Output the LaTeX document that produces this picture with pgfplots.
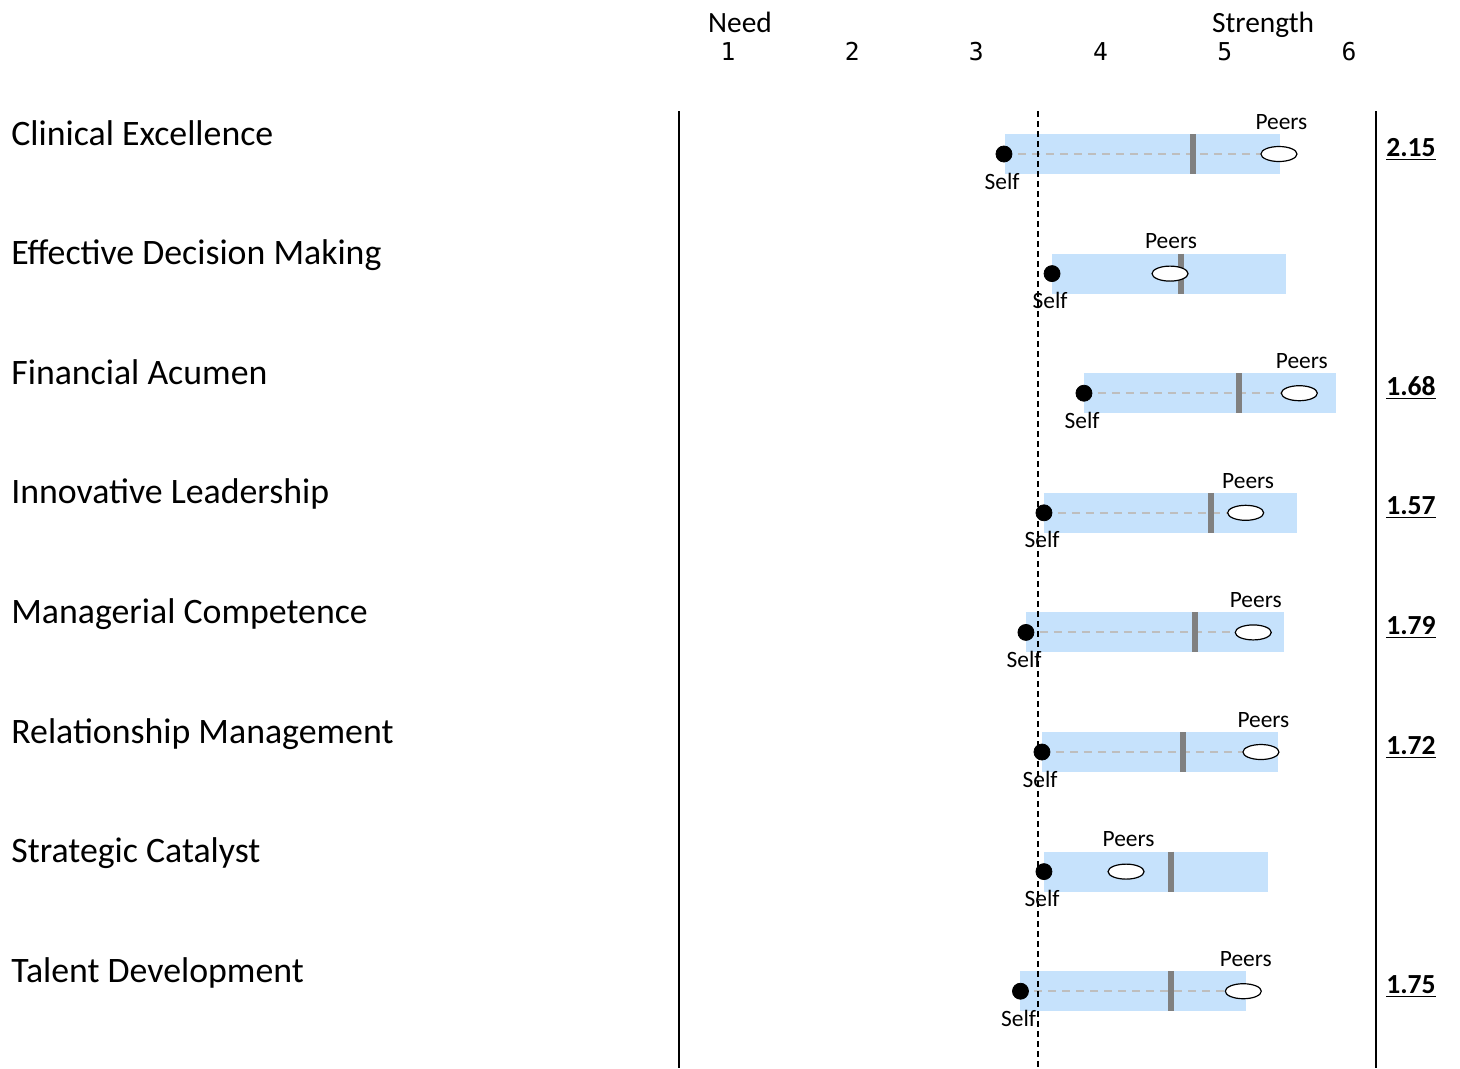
\documentclass[border=0pt]{standalone}
\usepackage{pgfplots}
\pgfplotsset{compat=1.18}
\usepackage{pgfplotstable}
\usepackage{fontspec}
\setmainfont{Carlito}
\newfontfamily\tickfont{DejaVu Sans Mono}
\definecolor{barblue}{RGB}{198,226,252}
\definecolor{markgray}{RGB}{128,128,128}
\definecolor{dashgray}{RGB}{190,190,190}

\pgfplotstableread{
y start end mid self peers
1 3.230 5.444 4.744 3.222 5.436
2 3.611 5.493 4.647 3.609 4.559
3 3.869 5.893 5.112 3.866 5.600
4 3.544 5.584 4.886 3.544 5.168
5 3.399 5.474 4.760 3.399 5.229
6 3.531 5.426 4.661 3.528 5.291
7 3.544 5.345 4.567 3.544 4.205
8 3.351 5.168 4.567 3.355 5.149
}\rows

\begin{document}
\begin{tikzpicture}
\begin{axis}[
  scale only axis,
  width=348.5pt, height=478.5pt,
  xmin=0.6055, xmax=6.2174,
  ymin=0.6405, ymax=8.6421,
  y dir=reverse,
  hide axis,
  clip=false,
]
% bars
\addplot[barblue, line width=20pt, forget plot] coordinates {(3.230,1) (5.444,1)};
\addplot[barblue, line width=20pt, forget plot] coordinates {(3.611,2) (5.493,2)};
\addplot[barblue, line width=20pt, forget plot] coordinates {(3.869,3) (5.893,3)};
\addplot[barblue, line width=20pt, forget plot] coordinates {(3.544,4) (5.584,4)};
\addplot[barblue, line width=20pt, forget plot] coordinates {(3.399,5) (5.474,5)};
\addplot[barblue, line width=20pt, forget plot] coordinates {(3.531,6) (5.426,6)};
\addplot[barblue, line width=20pt, forget plot] coordinates {(3.544,7) (5.345,7)};
\addplot[barblue, line width=20pt, forget plot] coordinates {(3.351,8) (5.168,8)};
% dashed connectors self -> peers
\addplot[dashgray, line width=1pt, dash pattern=on 4pt off 3pt, forget plot] coordinates {(3.222,1) (5.436,1)};
\addplot[dashgray, line width=1pt, dash pattern=on 4pt off 3pt, forget plot] coordinates {(3.866,3) (5.600,3)};
\addplot[dashgray, line width=1pt, dash pattern=on 4pt off 3pt, forget plot] coordinates {(3.544,4) (5.168,4)};
\addplot[dashgray, line width=1pt, dash pattern=on 4pt off 3pt, forget plot] coordinates {(3.399,5) (5.229,5)};
\addplot[dashgray, line width=1pt, dash pattern=on 4pt off 3pt, forget plot] coordinates {(3.528,6) (5.291,6)};
\addplot[dashgray, line width=1pt, dash pattern=on 4pt off 3pt, forget plot] coordinates {(3.355,8) (5.149,8)};
% gray middle marks
\addplot[only marks, mark=|, mark size=10pt, mark options={line width=3pt, draw=markgray}, forget plot] table[x=mid, y=y] {\rows};
% reference line at 3.5
\addplot[black, line width=1pt, dash pattern=on 3pt off 2pt, forget plot] coordinates {(3.5,0.6405) (3.5,8.6421)};
% self dots
\addplot[only marks, mark=*, mark size=4pt, mark options={fill=black, draw=black}, forget plot] table[x=self, y=y] {\rows};
% peers ellipses
\addplot[only marks, mark=*, mark size=3.75pt, mark options={fill=white, draw=black, line width=0.6pt, xscale=2.4}, forget plot] table[x=peers, y=y] {\rows};
% frame lines
\addplot[black, line width=1pt, forget plot] coordinates {(0.6055,0.6405) (0.6055,8.6421)};
\addplot[black, line width=1pt, forget plot] coordinates {(6.2174,0.6405) (6.2174,8.6421)};

% labels Peers / Self
\node[font=\fontsize{11.7}{13}\selectfont, inner sep=0pt, anchor=center] at (axis cs:5.456,0.732) {Peers};
\node[font=\fontsize{11.7}{13}\selectfont, inner sep=0pt, anchor=center] at (axis cs:3.207,1.226) {Self};
\node[font=\fontsize{11.7}{13}\selectfont, inner sep=0pt, anchor=center] at (axis cs:4.567,1.732) {Peers};
\node[font=\fontsize{11.7}{13}\selectfont, inner sep=0pt, anchor=center] at (axis cs:3.594,2.226) {Self};
\node[font=\fontsize{11.7}{13}\selectfont, inner sep=0pt, anchor=center] at (axis cs:5.620,2.732) {Peers};
\node[font=\fontsize{11.7}{13}\selectfont, inner sep=0pt, anchor=center] at (axis cs:3.851,3.226) {Self};
\node[font=\fontsize{11.7}{13}\selectfont, inner sep=0pt, anchor=center] at (axis cs:5.188,3.732) {Peers};
\node[font=\fontsize{11.7}{13}\selectfont, inner sep=0pt, anchor=center] at (axis cs:3.529,4.226) {Self};
\node[font=\fontsize{11.7}{13}\selectfont, inner sep=0pt, anchor=center] at (axis cs:5.249,4.732) {Peers};
\node[font=\fontsize{11.7}{13}\selectfont, inner sep=0pt, anchor=center] at (axis cs:3.384,5.226) {Self};
\node[font=\fontsize{11.7}{13}\selectfont, inner sep=0pt, anchor=center] at (axis cs:5.311,5.732) {Peers};
\node[font=\fontsize{11.7}{13}\selectfont, inner sep=0pt, anchor=center] at (axis cs:3.513,6.226) {Self};
\node[font=\fontsize{11.7}{13}\selectfont, inner sep=0pt, anchor=center] at (axis cs:4.225,6.732) {Peers};
\node[font=\fontsize{11.7}{13}\selectfont, inner sep=0pt, anchor=center] at (axis cs:3.529,7.226) {Self};
\node[font=\fontsize{11.7}{13}\selectfont, inner sep=0pt, anchor=center] at (axis cs:5.169,7.732) {Peers};
\node[font=\fontsize{11.7}{13}\selectfont, inner sep=0pt, anchor=center] at (axis cs:3.340,8.226) {Self};

% category labels
\node[font=\fontsize{17.9}{20}\selectfont, inner sep=0pt, anchor=base west] at (axis cs:-4.773,0.925) {Clinical Excellence};
\node[font=\fontsize{17.9}{20}\selectfont, inner sep=0pt, anchor=base west] at (axis cs:-4.773,1.925) {Effective Decision Making};
\node[font=\fontsize{17.9}{20}\selectfont, inner sep=0pt, anchor=base west] at (axis cs:-4.773,2.925) {Financial Acumen};
\node[font=\fontsize{17.9}{20}\selectfont, inner sep=0pt, anchor=base west] at (axis cs:-4.773,3.925) {Innovative Leadership};
\node[font=\fontsize{17.9}{20}\selectfont, inner sep=0pt, anchor=base west] at (axis cs:-4.773,4.925) {Managerial Competence};
\node[font=\fontsize{17.9}{20}\selectfont, inner sep=0pt, anchor=base west] at (axis cs:-4.773,5.925) {Relationship Management};
\node[font=\fontsize{17.9}{20}\selectfont, inner sep=0pt, anchor=base west] at (axis cs:-4.773,6.925) {Strategic Catalyst};
\node[font=\fontsize{17.9}{20}\selectfont, inner sep=0pt, anchor=base west] at (axis cs:-4.773,7.925) {Talent Development};

% gap values
\node[font=\fontsize{13.8}{16}\selectfont\bfseries, inner sep=0pt, anchor=base] at (axis cs:6.499,1.017) {\underline{2.15}};
\node[font=\fontsize{13.8}{16}\selectfont\bfseries, inner sep=0pt, anchor=base] at (axis cs:6.499,3.017) {\underline{1.68}};
\node[font=\fontsize{13.8}{16}\selectfont\bfseries, inner sep=0pt, anchor=base] at (axis cs:6.499,4.017) {\underline{1.57}};
\node[font=\fontsize{13.8}{16}\selectfont\bfseries, inner sep=0pt, anchor=base] at (axis cs:6.499,5.017) {\underline{1.79}};
\node[font=\fontsize{13.8}{16}\selectfont\bfseries, inner sep=0pt, anchor=base] at (axis cs:6.499,6.017) {\underline{1.72}};
\node[font=\fontsize{13.8}{16}\selectfont\bfseries, inner sep=0pt, anchor=base] at (axis cs:6.499,8.017) {\underline{1.75}};

% header
\node[font=\fontsize{14.7}{17}\selectfont, inner sep=0pt, anchor=base] at (axis cs:1.097,-0.020) {Need};
\node[font=\fontsize{14.7}{17}\selectfont, inner sep=0pt, anchor=base] at (axis cs:5.308,-0.020) {Strength};
\node[font=\tickfont\fontsize{12.3}{14}\selectfont, inner sep=0pt, anchor=base] at (axis cs:1,0.222) {1};
\node[font=\tickfont\fontsize{12.3}{14}\selectfont, inner sep=0pt, anchor=base] at (axis cs:2,0.222) {2};
\node[font=\tickfont\fontsize{12.3}{14}\selectfont, inner sep=0pt, anchor=base] at (axis cs:3,0.222) {3};
\node[font=\tickfont\fontsize{12.3}{14}\selectfont, inner sep=0pt, anchor=base] at (axis cs:4,0.222) {4};
\node[font=\tickfont\fontsize{12.3}{14}\selectfont, inner sep=0pt, anchor=base] at (axis cs:5,0.222) {5};
\node[font=\tickfont\fontsize{12.3}{14}\selectfont, inner sep=0pt, anchor=base] at (axis cs:6,0.222) {6};

\coordinate (imgTL) at ([xshift=-339.5pt,yshift=55.5pt]axis cs:0.6055,0.6405);
\coordinate (imgBR) at ([xshift=42pt]axis cs:6.2174,8.6421);
\end{axis}
\pgfresetboundingbox
\path[use as bounding box] (imgTL) rectangle (imgBR);
\end{tikzpicture}
\end{document}
